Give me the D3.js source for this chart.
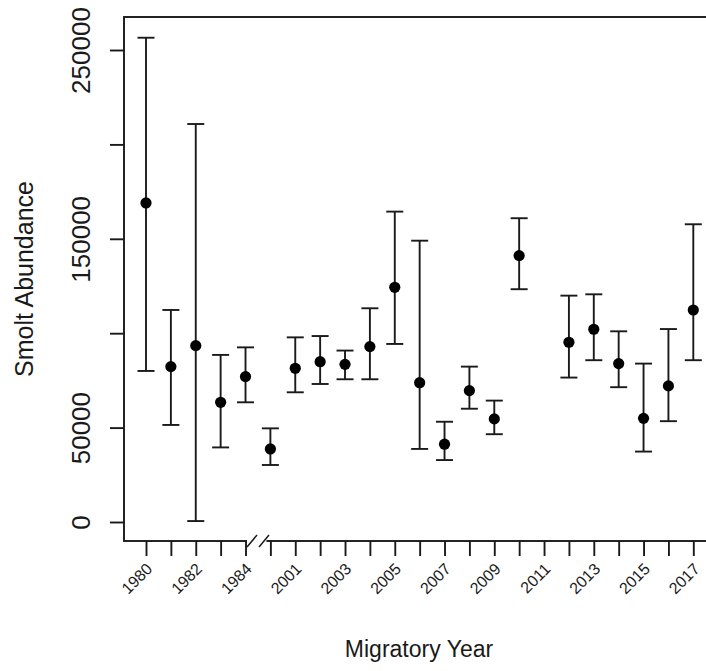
<!DOCTYPE html>
<html>
<head>
<meta charset="utf-8">
<script src="https://cdn.jsdelivr.net/npm/d3@7"></script>
<style>
  html, body { margin: 0; padding: 0; background: #fff; }
  svg { display: block; font-family: "Liberation Sans", Arial, sans-serif; }
</style>
</head>
<body>
<svg id="chart" width="706" height="671"></svg>
<script>
// Migratory years (the axis is broken between 1984 and 2000)
const years = ["1980","1981","1982","1983","1984","2000","2001","2002","2003","2004","2005",
               "2006","2007","2008","2009","2010","2011","2012","2013","2014","2015","2016","2017"];
// Smolt abundance estimates and their confidence limits (null = no estimate)
const estimate = [169000, 82300, 93400, 63400, 77000, 38700, 81400, 84900, 83500, 92900, 124300,
                  73800, 41200, 69600, 54600, 141100, null, 95200, 102100, 83900, 54900, 72100, 112300];
const lower    = [80000, 51400, 500, 39500, 63400, 30200, 68700, 73100, 75600, 75600, 94300,
                  38700, 32800, 60000, 46500, 123300, null, 76500, 85700, 71400, 37300, 53400, 85700];
const upper    = [256500, 112300, 210800, 88500, 92500, 49600, 97800, 98500, 90800, 113200, 164400,
                  149000, 53100, 82300, 64300, 160900, null, 119900, 120600, 101000, 83900, 102200, 157700];
// Axis ticks and labels
const yTickValues = [0, 50000, 100000, 150000, 200000, 250000];
const yTickLabels = ["0", "50000", "", "150000", "", "250000"];
const xTickLabels = ["1980","","1982","","1984","","2001","","2003","","2005","","2007","","2009","","2011","","2013","","2015","","2017"];
const xTitle = "Migratory Year";
const yTitle = "Smolt Abundance";

const ink = "#1a1a1a";
const svg = d3.select("#chart");

const box = { left: 124, top: 17, right: 712, bottom: 541 };

const x = d3.scalePoint().domain(years).range([146, 693.3]);
const y = d3.scaleLinear().domain([0, 250000]).range([522, 50]);

// plot frame
svg.append("rect")
  .attr("x", box.left).attr("y", box.top)
  .attr("width", box.right - box.left).attr("height", box.bottom - box.top)
  .attr("fill", "none").attr("stroke", ink).attr("stroke-width", 1.9);

// y axis
const yAxis = d3.axisLeft(y)
  .tickValues(yTickValues)
  .tickSize(14)
  .tickFormat((d, i) => yTickLabels[i]);
const gy = svg.append("g").attr("transform", `translate(${box.left},0)`).call(yAxis);
gy.select(".domain").remove();
gy.selectAll(".tick line").attr("stroke", ink).attr("stroke-width", 1.9);
gy.selectAll(".tick text")
  .attr("x", null).attr("dy", null)
  .attr("transform", "translate(-34,0) rotate(-90)")
  .attr("text-anchor", "middle")
  .attr("fill", ink)
  .style("font-size", "26px");

// x axis
const xAxis = d3.axisBottom(x).tickSize(15).tickFormat((d, i) => xTickLabels[i]);
const gx = svg.append("g").attr("transform", `translate(0,${box.bottom})`).call(xAxis);
gx.select(".domain").remove();
gx.selectAll(".tick line").attr("stroke", ink).attr("stroke-width", 1.9);
gx.selectAll(".tick text")
  .attr("y", null).attr("dy", null)
  .attr("transform", "translate(3,25) rotate(-45)")
  .attr("text-anchor", "end")
  .attr("dominant-baseline", "central")
  .attr("fill", ink)
  .style("font-size", "16px");

// axis break between 1984 and 2000
const bx0 = x("1984") + 1.5, bx1 = x("2000") - 4;
svg.append("rect")
  .attr("x", bx0).attr("y", box.bottom - 3)
  .attr("width", bx1 - bx0).attr("height", 6)
  .attr("fill", "#fff");
const slashW = 10, slashH = 12;
[bx0, bx0 + 12].forEach(sx => {
  svg.append("line")
    .attr("x1", sx).attr("y1", box.bottom + slashH / 2)
    .attr("x2", sx + slashW).attr("y2", box.bottom - slashH / 2)
    .attr("stroke", ink).attr("stroke-width", 1.5);
});

// error bars
const rows = years.map((yr, i) => ({ yr, est: estimate[i], lo: lower[i], hi: upper[i] }))
  .filter(d => d.est != null);
const cap = 8.5;
const bars = svg.append("g").attr("stroke", ink).attr("stroke-width", 1.9);
rows.forEach(d => {
  const cx = x(d.yr);
  bars.append("line").attr("x1", cx).attr("x2", cx).attr("y1", y(d.lo)).attr("y2", y(d.hi));
  bars.append("line").attr("x1", cx - cap).attr("x2", cx + cap).attr("y1", y(d.lo)).attr("y2", y(d.lo));
  bars.append("line").attr("x1", cx - cap).attr("x2", cx + cap).attr("y1", y(d.hi)).attr("y2", y(d.hi));
});

// point estimates
svg.append("g").selectAll("circle").data(rows).join("circle")
  .attr("cx", d => x(d.yr)).attr("cy", d => y(d.est))
  .attr("r", 5.6).attr("fill", "#000");

// axis titles
svg.append("text")
  .attr("x", 419).attr("y", 657)
  .attr("text-anchor", "middle").attr("fill", ink)
  .style("font-size", "23px").text(xTitle);
svg.append("text")
  .attr("transform", "translate(33,279) rotate(-90)")
  .attr("text-anchor", "middle").attr("fill", ink)
  .style("font-size", "25px").text(yTitle);
</script>
</body>
</html>
